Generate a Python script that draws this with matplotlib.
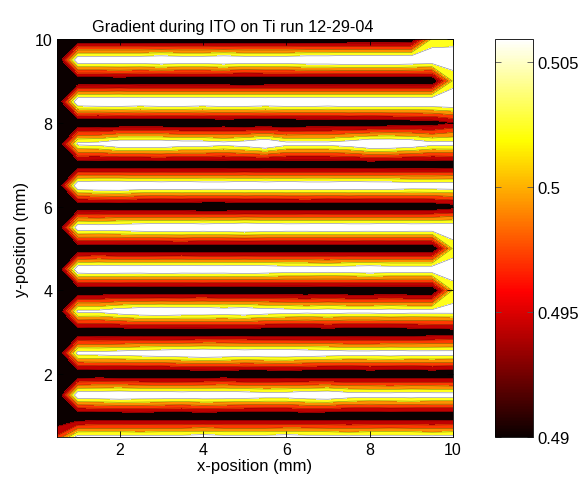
import numpy as np
import matplotlib.pyplot as plt
import matplotlib as mpl

plt.rcParams['font.family'] = ['Liberation Sans', 'DejaVu Sans']

# grid positions (mm)
x_pos = [0.5, 1.0, 1.5, 2.0, 2.5, 3.0, 3.5, 4.0, 4.5, 5.0,
         5.5, 6.0, 6.5, 7.0, 7.5, 8.0, 8.5, 9.0, 9.5, 10.0]
y_pos = [0.5, 1.0, 1.5, 2.0, 2.5, 3.0, 3.5, 4.0, 4.5, 5.0,
         5.5, 6.0, 6.5, 7.0, 7.5, 8.0, 8.5, 9.0, 9.5, 10.0]

# measured gradient, one row per y position (bottom to top)
row_y0_5 = [0.497, 0.507, 0.507, 0.507, 0.5065, 0.507, 0.507, 0.5075, 0.507, 0.507, 0.507, 0.5075, 0.507, 0.507, 0.5065, 0.507, 0.507, 0.507, 0.5065, 0.507]
row_y1_0 = [0.489, 0.4885, 0.489, 0.489, 0.4895, 0.489, 0.489, 0.4895, 0.489, 0.489, 0.489, 0.489, 0.4895, 0.489, 0.489, 0.489, 0.4895, 0.489, 0.489, 0.489]
row_y1_5 = [0.488, 0.509, 0.509, 0.5095, 0.509, 0.509, 0.5085, 0.509, 0.509, 0.5085, 0.508, 0.508, 0.509, 0.5095, 0.508, 0.5075, 0.5075, 0.508, 0.5075, 0.5075]
row_y2_0 = [0.489, 0.489, 0.4895, 0.489, 0.489, 0.4885, 0.489, 0.489, 0.4895, 0.489, 0.489, 0.4895, 0.489, 0.489, 0.489, 0.4895, 0.489, 0.489, 0.4895, 0.489]
row_y2_5 = [0.488, 0.507, 0.507, 0.5075, 0.508, 0.5085, 0.509, 0.5095, 0.509, 0.5085, 0.509, 0.509, 0.5085, 0.508, 0.5075, 0.5075, 0.508, 0.5075, 0.5075, 0.5075]
row_y3_0 = [0.489, 0.4895, 0.489, 0.489, 0.4895, 0.489, 0.489, 0.489, 0.4895, 0.4895, 0.489, 0.489, 0.489, 0.4895, 0.489, 0.489, 0.489, 0.4895, 0.490, 0.4905]
row_y3_5 = [0.488, 0.5065, 0.5065, 0.508, 0.509, 0.5095, 0.509, 0.509, 0.5085, 0.509, 0.508, 0.5075, 0.507, 0.5075, 0.507, 0.507, 0.5075, 0.507, 0.507, 0.507]
row_y4_0 = [0.489, 0.489, 0.489, 0.4895, 0.489, 0.489, 0.489, 0.4895, 0.489, 0.489, 0.489, 0.489, 0.489, 0.4895, 0.489, 0.489, 0.489, 0.489, 0.489, 0.503]
row_y4_5 = [0.488, 0.509, 0.5095, 0.509, 0.509, 0.5095, 0.509, 0.509, 0.509, 0.5095, 0.509, 0.5085, 0.5085, 0.508, 0.5085, 0.509, 0.5085, 0.5085, 0.5085, 0.5085]
row_y5_0 = [0.489, 0.489, 0.4895, 0.489, 0.489, 0.489, 0.4895, 0.489, 0.489, 0.489, 0.489, 0.489, 0.489, 0.489, 0.4895, 0.489, 0.489, 0.489, 0.489, 0.503]
row_y5_5 = [0.488, 0.5085, 0.508, 0.5085, 0.509, 0.5095, 0.5095, 0.509, 0.5095, 0.510, 0.5095, 0.509, 0.509, 0.5095, 0.509, 0.509, 0.5095, 0.509, 0.509, 0.509]
row_y6_0 = [0.489, 0.489, 0.489, 0.4895, 0.489, 0.489, 0.489, 0.4885, 0.4885, 0.489, 0.489, 0.489, 0.4895, 0.489, 0.489, 0.489, 0.489, 0.489, 0.4895, 0.491]
row_y6_5 = [0.488, 0.5095, 0.510, 0.510, 0.5095, 0.509, 0.5095, 0.509, 0.509, 0.5095, 0.509, 0.5095, 0.509, 0.509, 0.5095, 0.509, 0.509, 0.5085, 0.5085, 0.5085]
row_y7_0 = [0.489, 0.4895, 0.489, 0.489, 0.489, 0.4895, 0.489, 0.489, 0.489, 0.4895, 0.489, 0.489, 0.489, 0.489, 0.489, 0.4895, 0.489, 0.489, 0.489, 0.4895]
row_y7_5 = [0.488, 0.5065, 0.507, 0.509, 0.509, 0.509, 0.508, 0.508, 0.507, 0.508, 0.510, 0.507, 0.507, 0.507, 0.508, 0.510, 0.510, 0.509, 0.507, 0.507]
row_y8_0 = [0.489, 0.489, 0.4885, 0.489, 0.489, 0.489, 0.489, 0.489, 0.4895, 0.489, 0.489, 0.489, 0.4895, 0.4895, 0.490, 0.4895, 0.490, 0.4905, 0.4905, 0.493]
row_y8_5 = [0.488, 0.5095, 0.510, 0.510, 0.5095, 0.510, 0.510, 0.5095, 0.510, 0.510, 0.5095, 0.510, 0.510, 0.5095, 0.510, 0.510, 0.510, 0.5095, 0.510, 0.510]
row_y9_0 = [0.489, 0.489, 0.489, 0.4895, 0.489, 0.489, 0.489, 0.489, 0.489, 0.4885, 0.489, 0.489, 0.489, 0.489, 0.489, 0.489, 0.489, 0.489, 0.489, 0.503]
row_y9_5 = [0.488, 0.509, 0.509, 0.509, 0.509, 0.5095, 0.509, 0.509, 0.5095, 0.509, 0.509, 0.509, 0.5095, 0.5095, 0.510, 0.510, 0.510, 0.5095, 0.509, 0.508]
row_y10_0 = [0.489, 0.489, 0.489, 0.489, 0.489, 0.489, 0.489, 0.489, 0.489, 0.489, 0.489, 0.489, 0.489, 0.489, 0.489, 0.489, 0.489, 0.4895, 0.503, 0.504]

Z = np.array([row_y0_5, row_y1_0, row_y1_5, row_y2_0, row_y2_5, row_y3_0, row_y3_5,
              row_y4_0, row_y4_5, row_y5_0, row_y5_5, row_y6_0, row_y6_5, row_y7_0,
              row_y7_5, row_y8_0, row_y8_5, row_y9_0, row_y9_5, row_y10_0])

contour_levels = [0.493, 0.4965, 0.4995, 0.5025, 0.5055]
# position in the hot map of each filled band (black .. white)
band_shades = [0.0, 0.27, 0.45, 0.58, 0.77, 1.0]
c_min, c_max = 0.49, 0.5059
cbar_ticks = [0.49, 0.495, 0.5, 0.505]
cbar_labels = ['0.49', '0.495', '0.5', '0.505']

cmap = plt.get_cmap('hot')
norm = mpl.colors.Normalize(vmin=c_min, vmax=c_max)
levels = [Z.min() - 1e-4] + contour_levels + [Z.max() + 1e-4]
band_colors = [cmap(s) for s in band_shades]

fig = plt.figure(figsize=(5.83, 4.81), dpi=100)
ax = fig.add_axes([57 / 583, 43 / 481, 396 / 583, 398 / 481])
ax.contourf(x_pos, y_pos, Z, levels=levels, colors=band_colors)
ax.contour(x_pos, y_pos, Z, levels=contour_levels, colors='black', linewidths=0.4, alpha=0.5)

ax.set_xlim(0.5, 10)
ax.set_ylim(0.5, 10)
ax.set_xticks([2, 4, 6, 8, 10])
ax.set_yticks([2, 4, 6, 8, 10])
ax.tick_params(direction='in', top=True, right=True, length=4, width=0.6, labelsize=11.5)
for s in ax.spines.values():
    s.set_linewidth(0.6)
ax.set_xlabel('x-position (mm)', fontsize=12, labelpad=1)
ax.set_ylabel('y-position (mm)', fontsize=12, labelpad=4)
ax.set_title('Gradient during ITO on Ti run 12-29-04', fontsize=11.7, x=0.444, pad=6)

cax = fig.add_axes([495 / 583, 43 / 481, 38 / 583, 398 / 481])
sm = mpl.cm.ScalarMappable(norm=norm, cmap=cmap)
cb = fig.colorbar(sm, cax=cax)
cb.set_ticks(cbar_ticks)
cb.set_ticklabels(cbar_labels)
cb.outline.set_linewidth(0.6)
cax.tick_params(direction='in', left=True, right=True, length=4, width=0.6, labelsize=12,
                color='#555555', pad=3)

fig.savefig('out.png', dpi=100)
